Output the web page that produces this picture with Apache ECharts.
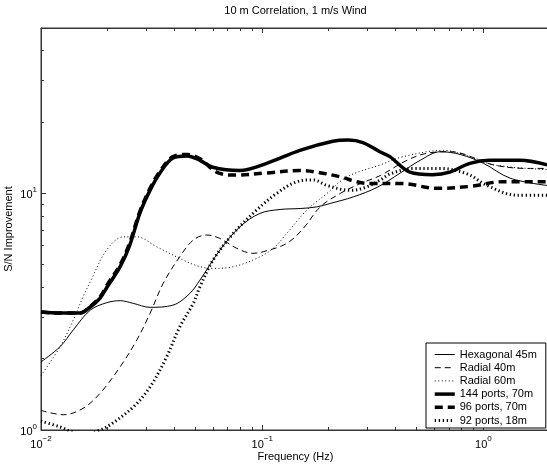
<!DOCTYPE html>
<html>
<head>
<meta charset="utf-8">
<script src="https://cdn.jsdelivr.net/npm/echarts@6/dist/echarts.min.js"></script>
<style>
  html, body { margin: 0; padding: 0; background: #fff; }
  #chart { width: 547px; height: 464px; }
</style>
</head>
<body>
<div id="chart"></div>
<script>
// S/N improvement versus frequency, [frequency (Hz), improvement] pairs per array layout
const hexagonal45 = [
  [0.0100, 1.94], [0.0122, 2.25], [0.0140, 2.65], [0.0167, 3.21], [0.0198, 3.45],
  [0.0228, 3.52], [0.0261, 3.43], [0.0311, 3.30], [0.0395, 3.37], [0.0471, 3.78],
  [0.0523, 4.30], [0.0644, 5.76], [0.0794, 7.23], [0.0977, 8.23], [0.1204, 8.55],
  [0.1484, 8.63], [0.1766, 8.77], [0.2032, 9.07], [0.2585, 9.67], [0.3304, 10.6],
  [0.4215, 12.2], [0.5182, 13.8], [0.639, 15.0], [0.787, 14.6], [1.00, 13.4],
  [1.32, 11.6], [1.94, 10.8]
];
const radial40 = [
  [0.0100, 1.21], [0.0126, 1.16], [0.0155, 1.235], [0.0185, 1.43], [0.0228, 1.85],
  [0.0271, 2.40], [0.0311, 3.11], [0.0357, 4.17], [0.0424, 5.40], [0.0488, 6.35],
  [0.0560, 6.67], [0.0644, 6.45], [0.0767, 5.86], [0.0908, 5.58], [0.1011, 5.67],
  [0.1292, 6.15], [0.1537, 7.13], [0.1829, 8.77], [0.2255, 10.0], [0.2774, 11.0],
  [0.3421, 11.9], [0.4512, 13.8], [0.56, 14.8], [0.7088, 15.0], [1.109, 13.2],
  [1.574, 12.75], [1.94, 12.75]
];
const radial60 = [
  [0.0100, 1.70], [0.0122, 2.25], [0.0140, 2.92], [0.0155, 3.66], [0.0167, 4.23],
  [0.0198, 5.76], [0.0236, 6.55], [0.0271, 6.55], [0.0333, 5.95], [0.0439, 5.23],
  [0.0523, 4.90], [0.0600, 4.82], [0.0741, 4.90], [0.0943, 5.31], [0.1122, 5.86],
  [0.1292, 6.78], [0.1591, 8.5], [0.1962, 10.0], [0.2418, 11.75], [0.342, 13.2],
  [0.4348, 14.3], [0.659, 15.2], [0.873, 14.3], [1.109, 13.2], [1.94, 12.6]
];
const ports144 = [
  [0.0100, 3.15], [0.0122, 3.12], [0.0150, 3.12], [0.0167, 3.31], [0.0185, 3.61],
  [0.0199, 4.02], [0.0228, 4.90], [0.0252, 6.05], [0.0280, 8.26], [0.0311, 10.3],
  [0.0345, 12.2], [0.0395, 14.1], [0.0457, 14.4], [0.0523, 13.8], [0.0598, 12.9],
  [0.0793, 12.5], [0.1047, 13.4], [0.148, 15.2], [0.2087, 16.6], [0.245, 16.8], [0.285, 16.4],
  [0.340, 15.0], [0.3776, 14.3], [0.465, 12.3], [0.59, 12.0], [0.705, 12.3],
  [0.868, 13.4], [1.069, 13.8], [1.46, 13.8], [1.94, 13.2]
];
const ports96 = [
  [0.0100, 3.15], [0.0122, 3.12], [0.0150, 3.12], [0.0167, 3.33], [0.0185, 3.65],
  [0.0199, 4.1], [0.0228, 5.0], [0.0252, 6.2], [0.0280, 8.4], [0.0311, 10.5],
  [0.0345, 12.4], [0.0395, 14.3], [0.0457, 14.6], [0.0523, 14.0], [0.0622, 12.3],
  [0.0740, 11.95], [0.1047, 12.2], [0.148, 12.5], [0.1762, 12.3], [0.225, 11.75],
  [0.268, 11.2], [0.306, 11.0], [0.431, 11.0], [0.612, 10.5], [0.868, 10.7],
  [1.22, 11.2], [1.94, 11.2]
];
const ports92 = [
  [0.0100, 1.09], [0.0122, 1.03], [0.0135, 0.99], [0.0155, 0.95], [0.0185, 1.0],
  [0.0205, 1.05], [0.0261, 1.25], [0.0311, 1.52], [0.0370, 2.04], [0.0424, 2.73],
  [0.0488, 3.43], [0.0523, 4.03], [0.0600, 5.23], [0.0741, 6.78], [0.0943, 8.5],
  [0.1163, 10.0], [0.1434, 11.2], [0.1707, 11.4], [0.1962, 10.8], [0.2503, 10.3],
  [0.2975, 10.65], [0.342, 11.4], [0.380, 12.1], [0.4816, 12.75], [0.639, 12.75],
  [0.843, 12.1], [1.038, 10.8], [1.418, 9.83], [1.94, 9.83]
];

const seriesNames = ['Hexagonal 45m', 'Radial 40m', 'Radial 60m', '144 ports, 70m', '96 ports, 70m', '92 ports, 18m'];

// axis ranges and minor tick positions
const X_MIN = 0.01, X_MAX = 2;
const Y_MIN = 1, Y_MAX = 50;
const xMinorTicks = [0.02, 0.03, 0.04, 0.05, 0.06, 0.07, 0.08, 0.09, 0.2, 0.3, 0.4, 0.5, 0.6, 0.7, 0.8, 0.9];
const yMinorTicks = [2, 3, 4, 5, 6, 7, 8, 9, 20, 30, 40];

const FONT = '"Liberation Sans", Arial, Helvetica, sans-serif';
const AXIS_COLOR = '#333';

function powerLabel(v) {
  const e = Math.log10(v);
  if (Math.abs(e - Math.round(e)) > 1e-6) return '';
  const n = Math.round(e);
  return '{b|10}{s|' + (n < 0 ? '\u2212' + (-n) : n) + '}';
}
const labelRich = {
  b: { fontSize: 11, lineHeight: 11, verticalAlign: 'bottom', color: '#000', fontFamily: FONT },
  s: { fontSize: 8, padding: [0, 0, 7, 0], color: '#000', fontFamily: FONT }
};

function crisp(v) { return Math.round(v - 0.5) + 0.5; }

function renderXMinor(params, api) {
  const bottom = api.coord([api.value(0), Y_MIN]);
  const top = api.coord([api.value(0), Y_MAX]);
  const x = crisp(bottom[0]);
  const style = { stroke: AXIS_COLOR, lineWidth: 1 };
  return {
    type: 'group',
    children: [
      { type: 'line', shape: { x1: x, y1: bottom[1], x2: x, y2: bottom[1] - 3 }, style },
      { type: 'line', shape: { x1: x, y1: top[1], x2: x, y2: top[1] + 3 }, style }
    ]
  };
}
function renderYMinor(params, api) {
  const left = api.coord([X_MIN, api.value(1)]);
  const y = crisp(left[1]);
  return {
    type: 'line',
    shape: { x1: left[0], y1: y, x2: left[0] + 3, y2: y },
    style: { stroke: AXIS_COLOR, lineWidth: 1 }
  };
}

function curve(name, data, width, dash) {
  return {
    name, type: 'line', data,
    symbol: 'none', smooth: 0.35, clip: true,
    lineStyle: { color: '#000', width, type: dash, cap: 'butt' },
    itemStyle: { color: '#000' },
    emphasis: { disabled: true },
    z: 3
  };
}

const chart = echarts.init(document.getElementById('chart'), null, { renderer: 'canvas' });
chart.setOption({
  animation: false,
  backgroundColor: '#fff',
  textStyle: { fontFamily: FONT },
  grid: { left: 41, top: 28, width: 509, height: 402, show: true, borderColor: AXIS_COLOR, borderWidth: 1, outerBoundsMode: 'none' },
  legend: {
    orient: 'vertical', left: 426, top: 343,
    itemWidth: 20, itemHeight: 11, itemGap: 2.2,
    padding: [6, 9, 2, 7],
    borderColor: '#000', borderWidth: 1, backgroundColor: '#fff',
    textStyle: { fontSize: 11, color: '#000', fontFamily: FONT },
    itemStyle: { opacity: 0, borderWidth: 0 },
    lineStyle: { width: 'inherit', type: 'inherit', color: 'inherit', cap: 'butt' },
    data: seriesNames,
    selectedMode: false,
    z: 10
  },
  xAxis: [{
    type: 'log', min: X_MIN, max: X_MAX, logBase: 10,
    name: 'Frequency (Hz)', nameLocation: 'middle', nameGap: 21, nameMoveOverlap: false,
    nameTextStyle: { fontSize: 11, color: '#000', fontFamily: FONT },
    axisLine: { show: true, lineStyle: { color: AXIS_COLOR } },
    axisTick: { show: true, inside: true, length: 5, lineStyle: { color: AXIS_COLOR } },
    axisLabel: { margin: 5, formatter: powerLabel, rich: labelRich, showMinLabel: true, showMaxLabel: false },
    splitLine: { show: false }
  }, {
    type: 'log', min: X_MIN, max: X_MAX, logBase: 10, position: 'top',
    name: '10 m Correlation, 1 m/s Wind', nameLocation: 'middle', nameGap: 12, nameMoveOverlap: false,
    nameTextStyle: { fontSize: 11, color: '#000', fontFamily: FONT },
    axisLine: { show: true, lineStyle: { color: AXIS_COLOR } },
    axisTick: { show: true, inside: true, length: 5, lineStyle: { color: AXIS_COLOR } },
    axisLabel: { show: false },
    splitLine: { show: false }
  }],
  yAxis: [{
    type: 'log', min: Y_MIN, max: Y_MAX, logBase: 10,
    name: 'S/N Improvement', nameLocation: 'middle', nameGap: 27, nameRotate: 90, nameMoveOverlap: false,
    nameTextStyle: { fontSize: 11, color: '#000', fontFamily: FONT },
    axisLine: { show: true, lineStyle: { color: AXIS_COLOR } },
    axisTick: { show: true, inside: true, length: 5, lineStyle: { color: AXIS_COLOR } },
    axisLabel: { margin: 4, formatter: powerLabel, rich: labelRich, showMaxLabel: false },
    splitLine: { show: false }
  }],
  series: [
    curve(seriesNames[0], hexagonal45, 1, 'solid'),
    curve(seriesNames[1], radial40, 1, [6, 4]),
    curve(seriesNames[2], radial60, 1, [1, 2.5]),
    curve(seriesNames[3], ports144, 3.5, 'solid'),
    curve(seriesNames[4], ports96, 3.5, [8, 5]),
    curve(seriesNames[5], ports92, 3, [1.3, 2.7]),
    {
      type: 'custom', name: 'xMinor', silent: true, z: 2,
      xAxisIndex: 0, yAxisIndex: 0,
      renderItem: renderXMinor,
      data: xMinorTicks.map(v => [v, Y_MIN])
    },
    {
      type: 'custom', name: 'yMinor', silent: true, z: 2,
      xAxisIndex: 0, yAxisIndex: 0,
      renderItem: renderYMinor,
      data: yMinorTicks.map(v => [X_MIN, v])
    }
  ]
});
</script>
</body>
</html>
